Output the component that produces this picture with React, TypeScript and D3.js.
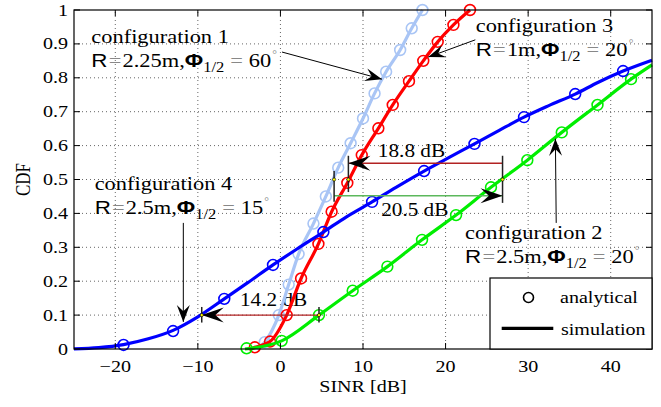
import * as d3 from "d3";
import React from "react";

const width = 661;
const height = 407;
const margin = { top: 10, right: 9, bottom: 58, left: 74 };
const SX = 1.18; // the figure is stretched horizontally

const xTicks = [-20, -10, 0, 10, 20, 30, 40];
const yTicks = [0, 0.1, 0.2, 0.3, 0.4, 0.5, 0.6, 0.7, 0.8, 0.9, 1];

// config 1: R=2.25m, phi=60
const config1Sim = [[-2.8, 0], [-1.9, 0.02], [-0.2, 0.1], [1.0, 0.19], [2.2, 0.28], [4.0, 0.37], [5.5, 0.45], [7.0, 0.535], [8.5, 0.607], [10.0, 0.68], [11.4, 0.754], [12.8, 0.818], [14.5, 0.882], [15.9, 0.946], [17.2, 1.0]];
const config1Ana = [[-1.9, 0.02], [-0.2, 0.1], [1.0, 0.19], [2.2, 0.28], [4.0, 0.37], [5.5, 0.45], [7.0, 0.535], [8.5, 0.607], [10.0, 0.68], [11.4, 0.754], [12.8, 0.818], [14.5, 0.882], [15.9, 0.946], [17.2, 1.0]];

// config 3: R=1m, phi=20
const config3Sim = [[-3.6, 0], [-3.1, 0.005], [-1.26, 0.022], [0.76, 0.1], [2.5, 0.208], [4.6, 0.31], [6.2, 0.405], [8.1, 0.49], [9.85, 0.572], [11.86, 0.651], [13.6, 0.72], [15.57, 0.79], [17.3, 0.85], [19.05, 0.906], [20.95, 0.956], [22.96, 1.0]];
const config3Ana = [[-3.1, 0.005], [-1.26, 0.022], [0.76, 0.1], [2.5, 0.208], [4.6, 0.31], [6.2, 0.405], [8.1, 0.49], [9.85, 0.572], [11.86, 0.651], [13.6, 0.72], [15.57, 0.79], [17.3, 0.85], [19.05, 0.906], [20.95, 0.956], [22.96, 1.0]];

// config 2: R=2.5m, phi=20
const config2Sim = [[-4.3, 0], [0.15, 0.024], [4.67, 0.1], [8.75, 0.172], [12.95, 0.243], [17.15, 0.322], [21.27, 0.395], [25.5, 0.477], [29.9, 0.557], [34.07, 0.639], [38.4, 0.72], [42.46, 0.796], [45, 0.838]];
const config2Ana = [[-4.1, 0.002], [0.15, 0.024], [4.67, 0.1], [8.75, 0.172], [12.95, 0.243], [17.15, 0.322], [21.27, 0.395], [25.5, 0.477], [29.9, 0.557], [34.07, 0.639], [38.4, 0.72], [42.46, 0.796]];

// config 4: R=2.5m, phi=15
const config4Sim = [[-25, 0.0005], [-22, 0.004], [-19, 0.013], [-16, 0.03], [-13, 0.055], [-10, 0.095], [-6.8, 0.148], [-4, 0.195], [-0.9, 0.248], [2, 0.295], [5.2, 0.345], [8, 0.39], [11.1, 0.434], [14, 0.477], [17.4, 0.525], [20.5, 0.566], [23.5, 0.605], [26.5, 0.645], [29.5, 0.684], [32.5, 0.718], [35.7, 0.752], [38.5, 0.787], [41.5, 0.82], [45, 0.852]];
const config4Ana = [[-19, 0.012], [-13, 0.053], [-6.8, 0.148], [-0.9, 0.248], [5.2, 0.345], [11.1, 0.434], [17.4, 0.525], [23.5, 0.605], [29.5, 0.684], [35.7, 0.752], [41.5, 0.82]];

const series = [
  { sim: config1Sim, ana: config1Ana, color: "#a9c5f5" },
  { sim: config3Sim, ana: config3Ana, color: "#ff0000" },
  { sim: config2Sim, ana: config2Ana, color: "#00ee00" },
  { sim: config4Sim, ana: config4Ana, color: "#0000ff" },
];

// text labels with arrows, positions in data units
const configLabels = [
  { title: "configuration 1", r: "2.25m", phi: "60", at: [-22.9, 0.903], from: [0.19, 0.876], to: [12.3, 0.796] },
  { title: "configuration 3", r: "1m", phi: "20", at: [23.65, 0.935], from: [23.6, 0.912], to: [17.9, 0.861] },
  { title: "configuration 4", r: "2.5m", phi: "15", at: [-22.5, 0.469], from: [-11.76, 0.372], to: [-11.76, 0.08] },
  { title: "configuration 2", r: "2.5m", phi: "20", at: [22.36, 0.324], from: [33.4, 0.372], to: [33.3, 0.62] },
];

// gap arrows
const gaps = [
  { label: "18.8 dB", cdf: 0.548, from: 26.9, to: 8.23, color: "#b22222", text: [11.8, 0.566] },
  { label: "20.5 dB", cdf: 0.452, from: 6.5, to: 26.9, color: "#5cb85c", text: [12.2, 0.392] },
  { label: "14.2 dB", cdf: 0.1, from: 4.67, to: -9.53, color: "#b22222", text: [-4.9, 0.127] },
];
const gapTicks = [[8.23, 0.463, 0.57], [6.5, 0.434, 0.525], [26.9, 0.431, 0.57], [-9.53, 0.078, 0.124], [4.67, 0.078, 0.124]];
const gapDots = [[8.23, 0.5], [6.5, 0.5], [26.9, 0.5], [-9.53, 0.1], [4.67, 0.1]];

const serif = "Liberation Serif";
const sans = "Liberation Sans";

function Txt({ x, y, size = 17, anchor = "start", children }) {
  return (
    <text
      transform={`translate(${x},${y}) scale(${SX},1)`}
      textAnchor={anchor}
      fill="#000"
      style={{ fontFamily: serif, fontSize: size + "px" }}
    >
      {children}
    </text>
  );
}

function arrowHead(x, y, angle, L, Wd) {
  const p = `M0,0 L${-L},${-Wd} L${-L * 0.62},0 L${-L},${Wd} Z`;
  return <path d={p} transform={`translate(${x},${y}) rotate(${(angle * 180) / Math.PI})`} fill="#000" />;
}

export default function App() {
  const innerW = width - margin.left - margin.right;
  const innerH = height - margin.top - margin.bottom;
  const x = d3.scaleLinear().domain([-25, 45]).range([margin.left, margin.left + innerW]);
  const y = d3.scaleLinear().domain([0, 1]).range([margin.top + innerH, margin.top]);
  const line = d3
    .line()
    .x((d) => x(d[0]))
    .y((d) => y(d[1]))
    .curve(d3.curveMonotoneX);

  const x0 = x.range()[0], x1 = x.range()[1];
  const y0 = y.range()[0], y1 = y.range()[1];

  return (
    <svg width={width} height={height} style={{ position: "absolute", left: 0, top: 0, background: "#fff" }}>
      <rect width={width} height={height} fill="#fff" />
      {/* grid */}
      {xTicks.map((t) => (
        <line key={"gx" + t} x1={x(t)} x2={x(t)} y1={y0} y2={y1} stroke="#666" strokeWidth={1} strokeDasharray="1,3" />
      ))}
      {yTicks.slice(1, -1).map((t) => (
        <line key={"gy" + t} x1={x0} x2={x1} y1={y(t)} y2={y(t)} stroke="#666" strokeWidth={1} strokeDasharray="1,3" />
      ))}

      {/* gap labels */}
      {gaps.map((g) => (
        <Txt key={g.label} x={x(g.text[0])} y={y(g.text[1])} size={18}>{g.label}</Txt>
      ))}

      {/* curves */}
      {series.map((s, i) => (
        <g key={i}>
          <path d={line(s.sim)} fill="none" stroke={s.color} strokeWidth={3.2} strokeLinejoin="round" />
          {s.ana.map((d, j) => (
            <circle key={j} cx={x(d[0])} cy={y(d[1])} r={5.4} fill="none" stroke={s.color} strokeWidth={1.6} />
          ))}
        </g>
      ))}

      {/* gap arrows */}
      {gaps.map((g) => (
        <g key={"a" + g.label}>
          <line x1={x(g.from)} x2={x(g.to)} y1={y(g.cdf)} y2={y(g.cdf)} stroke={g.color} strokeWidth={1.3} />
          {arrowHead(x(g.to), y(g.cdf), g.to > g.from ? 0 : Math.PI, 22, 7.5)}
        </g>
      ))}
      {gapTicks.map((t, i) => (
        <line key={"t" + i} x1={x(t[0])} x2={x(t[0])} y1={y(t[1])} y2={y(t[2])} stroke="#222" strokeWidth={1.5} />
      ))}
      {gapDots.map((d, i) => (
        <circle key={"d" + i} cx={x(d[0])} cy={y(d[1])} r={1.6} fill="#ff0" stroke="#000" strokeWidth={0.6} />
      ))}

      {/* configuration labels */}
      {configLabels.map((c) => {
        const fx = x(c.from[0]), fy = y(c.from[1]);
        const tx = x(c.to[0]), ty = y(c.to[1]);
        const ang = Math.atan2(ty - fy, tx - fx);
        return (
          <g key={c.title}>
            <Txt x={x(c.at[0])} y={y(c.at[1])} size={19}>{c.title}</Txt>
            <Txt x={x(c.at[0])} y={y(c.at[1]) + 24} size={19}>
              <tspan style={{ fontFamily: sans }}>R</tspan>
              <tspan fill="#888" dx={1}>=</tspan>
              <tspan dx={1}>{c.r + ","}</tspan>
              <tspan style={{ fontFamily: sans, fontWeight: "bold" }}>Φ</tspan>
              <tspan style={{ fontSize: "14px" }} dy={5}>1/2</tspan>
              <tspan fill="#888" dy={-5} dx={5}>=</tspan>
              <tspan dx={5}>{c.phi}</tspan>
              <tspan style={{ fontSize: "10px" }} dy={-9} dx={1} fill="#888">°</tspan>
            </Txt>
            <line x1={fx} y1={fy} x2={tx} y2={ty} stroke="#000" strokeWidth={1} />
            {arrowHead(tx, ty, ang, 17, 6.5)}
          </g>
        );
      })}

      {/* axes box and ticks */}
      <rect x={x0} y={y1} width={x1 - x0} height={y0 - y1} fill="none" stroke="#000" strokeWidth={1.2} />
      {xTicks.map((t) => (
        <g key={"tx" + t}>
          <line x1={x(t)} x2={x(t)} y1={y0} y2={y0 - 6} stroke="#000" />
          <line x1={x(t)} x2={x(t)} y1={y1} y2={y1 + 6} stroke="#000" />
          <Txt x={x(t)} y={372} anchor="middle">{t < 0 ? "\u2212" + Math.abs(t) : String(t)}</Txt>
        </g>
      ))}
      {yTicks.map((t) => (
        <g key={"ty" + t}>
          <line x1={x0} x2={x0 + 6} y1={y(t)} y2={y(t)} stroke="#000" />
          <line x1={x1} x2={x1 - 6} y1={y(t)} y2={y(t)} stroke="#000" />
          <Txt x={68} y={y(t) + 5.5} anchor="end">{String(t)}</Txt>
        </g>
      ))}
      <Txt x={(x0 + x1) / 2} y={392} anchor="middle">SINR [dB]</Txt>
      <text
        transform={`translate(30,${(y0 + y1) / 2}) rotate(-90) scale(1,${SX})`}
        textAnchor="middle"
        style={{ fontFamily: serif, fontSize: "17px" }}
      >
        CDF
      </text>

      {/* legend */}
      <rect x={490} y={278} width={x1 - 490} height={y0 - 278} fill="#fff" stroke="#000" strokeWidth={1.2} />
      <circle cx={528.5} cy={297.5} r={5} fill="none" stroke="#000" strokeWidth={1.6} />
      <Txt x={560} y={303}>analytical</Txt>
      <line x1={501.7} x2={553.3} y1={328.3} y2={328.3} stroke="#000" strokeWidth={3.2} />
      <Txt x={561} y={335}>simulation</Txt>
    </svg>
  );
}
